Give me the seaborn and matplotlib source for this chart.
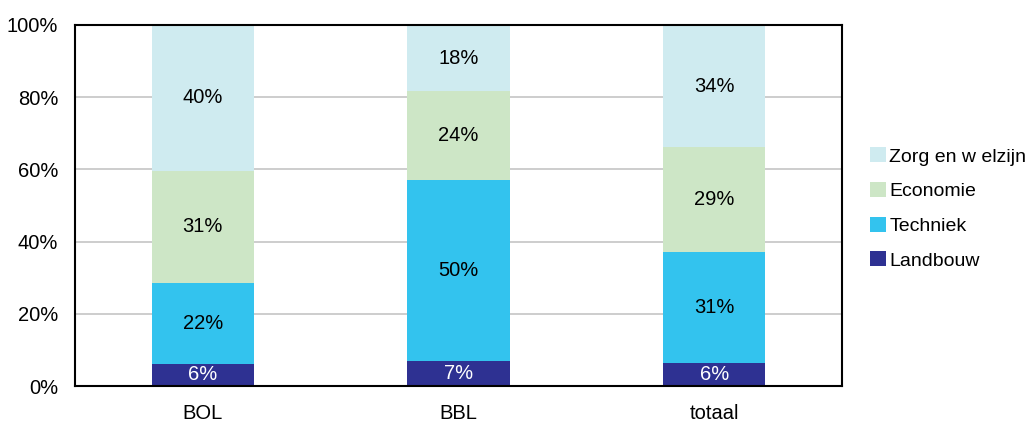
import numpy as np
import pandas as pd
import matplotlib
matplotlib.use("Agg")
import matplotlib.pyplot as plt
from matplotlib.patches import Patch
from matplotlib.ticker import FixedLocator, PercentFormatter
import seaborn as sns

# data (shares in %)
categories = ["BOL", "BBL", "totaal"]
series = ["Landbouw", "Techniek", "Economie", "Zorg en w elzijn"]
landbouw = [6.2, 6.8, 6.4]
techniek = [22.4, 50.4, 30.6]
economie = [31.0, 24.4, 29.1]
zorg = [40.4, 18.4, 33.9]

colors = ["#2E3192", "#33C3EE", "#CDE6C6", "#CFEBF0"]
label_colors = ["white", "black", "black", "black"]

sns.set_style("white")
plt.rcParams["font.family"] = ["Liberation Sans", "DejaVu Sans"]
plt.rcParams["font.size"] = 14
plt.rcParams["text.color"] = "black"
plt.rcParams["xtick.color"] = "black"
plt.rcParams["ytick.color"] = "black"

df = pd.DataFrame({"cat": categories, "Landbouw": landbouw, "Techniek": techniek,
                   "Economie": economie, "Zorg en w elzijn": zorg})
cum = df[series].cumsum(axis=1)

fig = plt.figure(figsize=(10.3, 4.23), dpi=100)
ax = fig.add_axes([75 / 1030, 37 / 423, (842 - 75) / 1030, (386 - 25) / 423])

# draw cumulative totals top layer first so lower layers overlap them
for s, c in reversed(list(zip(series, colors))):
    sns.barplot(x=df["cat"], y=cum[s], color=c, width=0.4, saturation=1,
                order=categories, ax=ax, zorder=2, linewidth=0, edgecolor="none")

# segment labels
for i in range(len(categories)):
    base = 0.0
    for s, lc in zip(series, label_colors):
        v = df.loc[i, s]
        ax.text(i, base + v / 2, f"{round(v):.0f}%", ha="center", va="center",
                color=lc, fontsize=14.5, zorder=3)
        base += v

ax.set_xlim(-0.5, 2.5)
ax.set_ylim(0, 100)
ax.set_xlabel("")
ax.set_ylabel("")
ax.yaxis.set_major_locator(FixedLocator([0, 20, 40, 60, 80, 100]))
ax.yaxis.set_major_formatter(PercentFormatter(decimals=0))
ax.xaxis.set_minor_locator(FixedLocator([-0.5, 0.5, 1.5, 2.5]))
ax.tick_params(axis="y", which="major", direction="out", length=5, width=1.2,
               color="black", pad=7, labelsize=14.5)
ax.tick_params(axis="x", which="major", length=0, pad=13, labelsize=14.5)
ax.tick_params(axis="x", which="minor", direction="out", length=5, width=1.2,
               color="black")
ax.grid(axis="y", color="#C0C0C0", linewidth=1.1, zorder=0)
ax.set_axisbelow(True)
for side, sp in ax.spines.items():
    sp.set_visible(True)
    sp.set_color("black")
    sp.set_linewidth(1.5)
    sp.set_zorder(4)

handles = [Patch(facecolor=c, edgecolor="none") for c in colors]
fig.legend(handles[::-1], series[::-1], loc="center left",
           bbox_to_anchor=(870 / 1030, 1 - 208.5 / 423), frameon=False,
           fontsize=14, handlelength=0.8, handleheight=0.8,
           handletextpad=0.2, labelspacing=0.85, borderpad=0, borderaxespad=0)

fig.savefig("out.png", dpi=100)
